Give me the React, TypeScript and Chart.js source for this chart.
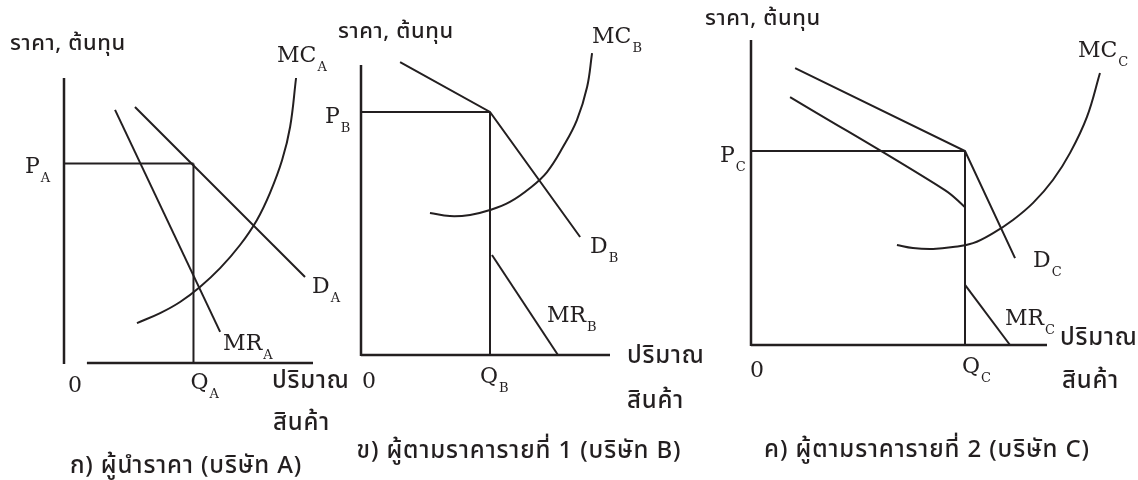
import React, { useEffect, useRef } from "react";
import { Chart, registerables } from "chart.js";

Chart.register(...registerables);

const W = 1138;
const H = 480;
const INK = "#231f20";
const SERIF = "'DejaVu Serif', 'Liberation Serif', serif";
const THAI = "'Noto Sans Thai', 'Noto Sans Thai UI', Loma, Garuda, Waree, Norasi, 'DejaVu Sans', sans-serif";

// ---------- Panel A: price leader (firm A) ----------
const A_MC_Q = [2.93, 3.86, 4.66, 5.46, 6.27, 7.07, 7.75, 8.27, 8.76, 9.08, 9.32];
const A_MC_P = [1.4, 1.75, 2.14, 2.67, 3.33, 4.14, 5.02, 5.96, 7.12, 8.28, 10.0];
const A_D_Q = [2.85, 9.68];
const A_D_P = [8.98, 3.02];
const A_MR_Q = [2.05, 6.27];
const A_MR_P = [8.88, 1.09];
const A_PRICE = 7.0;
const A_QTY = 5.2;

// ---------- Panel B: follower 1 (firm B) ----------
const B_MC_Q = [2.77, 3.57, 4.38, 5.18, 5.98, 6.79, 7.47, 8.11, 8.67, 9.08, 9.28];
const B_MC_P = [4.9, 4.79, 4.83, 5.0, 5.28, 5.76, 6.31, 7.17, 8.1, 9.24, 10.41];
const B_D_Q = [1.57, 5.18, 8.8];
const B_D_P = [10.1, 8.38, 4.07];
const B_MR_Q = [5.26, 7.91];
const B_MR_P = [3.45, 0.0];
const B_PRICE = 8.38;
const B_QTY = 5.18;

// ---------- Panel C: follower 2 (firm C) ----------
const C_MC_Q = [4.93, 5.47, 6.15, 6.82, 7.5, 8.18, 8.85, 9.53, 10.2, 10.78, 11.35, 11.79];
const C_MC_P = [3.28, 3.18, 3.15, 3.21, 3.34, 3.67, 4.1, 4.66, 5.41, 6.3, 7.48, 8.92];
const C_D_Q = [1.49, 7.23, 8.92];
const C_D_P = [9.08, 6.36, 2.85];
const C_MR1_Q = [1.32, 6.55, 7.23];
const C_MR1_P = [8.13, 5.08, 4.52];
const C_MR2_Q = [7.23, 8.75];
const C_MR2_P = [1.97, 0.0];
const C_PRICE = 6.36;
const C_QTY = 7.23;

// ---------- Text ----------
const AXIS_Y_TITLE = "ราคา, ต้นทุน";
const AXIS_X_TITLE_1 = "ปริมาณ";
const AXIS_X_TITLE_2 = "สินค้า";
const CAPTIONS = [
  "ก) ผู้นำราคา (บริษัท A)",
  "ข) ผู้ตามราคารายที่ 1 (บริษัท B)",
  "ค) ผู้ตามราคารายที่ 2 (บริษัท C)",
];
const FIRMS = ["A", "B", "C"];
const AXIS_END = 10;

type Pt = { x: number; y: number };
const pts = (q: number[], p: number[]): Pt[] => q.map((x, i) => ({ x, y: p[i] }));

type Label = {
  text: string;
  sub?: string;
  at: Pt;
  dx: number;
  dy: number;
  kind: "serif" | "ytitle" | "xtitle" | "caption";
  align?: CanvasTextAlign;
};

type Geo = { ox: number; oy: number; ux: number; uy: number; xMax: number; yMax: number; xFrom: number };

type Panel = {
  geo: Geo;
  series: { data: Pt[]; curve: boolean }[];
  labels: Label[];
};

function buildPanel(
  firm: string,
  caption: string,
  geo: Geo,
  mc: Pt[],
  d: Pt[],
  mr: Pt[][],
  price: number,
  qty: number,
  off: Record<string, [number, number]>
): Panel {
  const series = [
    { data: mc, curve: true },
    { data: d, curve: false },
    ...mr.map((m) => ({ data: m, curve: m.length > 2 })),
    { data: [{ x: 0, y: price }, { x: qty, y: price }], curve: false },
    { data: [{ x: qty, y: 0 }, { x: qty, y: price }], curve: false },
  ];
  const lastMR = mr[mr.length - 1];
  const labels: Label[] = [
    { text: AXIS_Y_TITLE, at: { x: 0, y: AXIS_END }, dx: off.title[0], dy: off.title[1], kind: "ytitle" },
    { text: "MC", sub: firm, at: mc[mc.length - 1], dx: off.mc[0], dy: off.mc[1], kind: "serif" },
    { text: "P", sub: firm, at: { x: 0, y: price }, dx: off.p[0], dy: off.p[1], kind: "serif" },
    { text: "D", sub: firm, at: d[d.length - 1], dx: off.d[0], dy: off.d[1], kind: "serif" },
    { text: "MR", sub: firm, at: lastMR[lastMR.length - 1], dx: off.mr[0], dy: off.mr[1], kind: "serif" },
    { text: "0", at: { x: 0, y: 0 }, dx: off.zero[0], dy: off.zero[1], kind: "serif", align: "center" },
    { text: "Q", sub: firm, at: { x: qty, y: 0 }, dx: off.q[0], dy: off.q[1], kind: "serif" },
    { text: AXIS_X_TITLE_1, at: { x: AXIS_END, y: 0 }, dx: off.x1[0], dy: off.x1[1], kind: "xtitle" },
    { text: AXIS_X_TITLE_2, at: { x: AXIS_END, y: 0 }, dx: off.x2[0], dy: off.x2[1], kind: "xtitle" },
    { text: caption, at: { x: 0, y: 0 }, dx: off.cap[0], dy: off.cap[1], kind: "caption", align: "center" },
  ];
  return { geo, series, labels };
}

const PANELS: Panel[] = [
  buildPanel(
    FIRMS[0],
    CAPTIONS[0],
    { ox: 64, oy: 363, ux: 24.9, uy: 28.5, xMax: 10.5, yMax: 10.5, xFrom: 0.92 },
    pts(A_MC_Q, A_MC_P),
    pts(A_D_Q, A_D_P),
    [pts(A_MR_Q, A_MR_P)],
    A_PRICE,
    A_QTY,
    {
      title: [-54, -28],
      mc: [-19, -16],
      p: [-39, 9],
      d: [7, 16],
      mr: [3, 18],
      zero: [11, 29],
      q: [-3, 26],
      x1: [-41, 25],
      x2: [-40, 67],
      cap: [122, 110],
    }
  ),
  buildPanel(
    FIRMS[1],
    CAPTIONS[1],
    { ox: 361, oy: 355, ux: 24.9, uy: 29, xMax: 10.5, yMax: 10.8, xFrom: 0 },
    pts(B_MC_Q, B_MC_P),
    pts(B_D_Q, B_D_P),
    [pts(B_MR_Q, B_MR_P)],
    B_PRICE,
    B_QTY,
    {
      title: [-23, -27],
      mc: [0, -10],
      p: [-36, 11],
      d: [10, 16],
      mr: [-11, -33],
      zero: [8, 33],
      q: [-10, 28],
      x1: [17, 8],
      x2: [17, 53],
      cap: [158, 103],
    }
  ),
  buildPanel(
    FIRMS[2],
    CAPTIONS[2],
    { ox: 751, oy: 345, ux: 29.6, uy: 30.5, xMax: 12.2, yMax: 10.5, xFrom: 0 },
    pts(C_MC_Q, C_MC_P),
    pts(C_D_Q, C_D_P),
    [pts(C_MR1_Q, C_MR1_P), pts(C_MR2_Q, C_MR2_P)],
    C_PRICE,
    C_QTY,
    {
      title: [-46, -15],
      mc: [-22, -16],
      p: [-31, 11],
      d: [18, 9],
      mr: [-5, -20],
      zero: [6, 32],
      q: [-3, 28],
      x1: [13, 0],
      x2: [15, 43],
      cap: [176, 112],
    }
  ),
];

function axesPlugin(geo: Geo) {
  return {
    id: "econAxes",
    beforeDatasetsDraw(chart: any) {
      const { ctx } = chart;
      const xs = chart.scales.x;
      const ys = chart.scales.y;
      const x0 = xs.getPixelForValue(0);
      const y0 = ys.getPixelForValue(0);
      ctx.save();
      ctx.strokeStyle = INK;
      ctx.lineWidth = 2.5;
      ctx.lineCap = "butt";
      ctx.beginPath();
      ctx.moveTo(x0, ys.getPixelForValue(AXIS_END));
      ctx.lineTo(x0, y0 + 1);
      ctx.moveTo(xs.getPixelForValue(geo.xFrom), y0);
      ctx.lineTo(xs.getPixelForValue(AXIS_END), y0);
      ctx.stroke();
      ctx.restore();
    },
  };
}

function labelPlugin(labels: Label[]) {
  return {
    id: "econLabels",
    afterDraw(chart: any) {
      const { ctx } = chart;
      const xs = chart.scales.x;
      const ys = chart.scales.y;
      ctx.save();
      ctx.fillStyle = INK;
      ctx.textBaseline = "alphabetic";
      for (const l of labels) {
        const px = xs.getPixelForValue(l.at.x) + l.dx;
        const py = ys.getPixelForValue(l.at.y) + l.dy;
        let spacing = "0px";
        if (l.kind === "serif") ctx.font = `22px ${SERIF}`;
        else if (l.kind === "ytitle") {
          ctx.font = `500 22px ${THAI}`;
          spacing = "0.6px";
        } else if (l.kind === "xtitle") {
          ctx.font = `500 24px ${THAI}`;
          spacing = "0.8px";
        } else {
          ctx.font = `500 24px ${THAI}`;
          spacing = "0.9px";
        }
        (ctx as any).letterSpacing = spacing;
        ctx.textAlign = l.align || "left";
        ctx.fillText(l.text, px, py);
        (ctx as any).letterSpacing = "0px";
        if (l.sub) {
          const w = ctx.measureText(l.text).width;
          ctx.font = `13px ${SERIF}`;
          ctx.textAlign = "left";
          ctx.fillText(l.sub, px + w + 1, py + 9);
        }
      }
      ctx.restore();
    },
  };
}

function PanelChart({ panel }: { panel: Panel }) {
  const ref = useRef<HTMLCanvasElement | null>(null);
  useEffect(() => {
    if (!ref.current) return;
    const g = panel.geo;
    const chart = new Chart(ref.current, {
      type: "scatter",
      data: {
        datasets: panel.series.map((s) => ({
          data: s.data,
          showLine: true,
          borderColor: INK,
          borderWidth: 2,
          pointRadius: 0,
          fill: false,
          clip: false as any,
          tension: s.curve ? 0.4 : 0,
        })),
      },
      options: {
        responsive: false,
        animation: false,
        devicePixelRatio: 1,
        layout: {
          padding: {
            left: g.ox,
            bottom: H - g.oy,
            right: W - (g.ox + g.xMax * g.ux),
            top: g.oy - g.yMax * g.uy,
          },
        },
        plugins: { legend: { display: false }, tooltip: { enabled: false }, title: { display: false } },
        events: [],
        scales: {
          x: { type: "linear", display: false, min: 0, max: g.xMax },
          y: { type: "linear", display: false, min: 0, max: g.yMax },
        },
      },
      plugins: [axesPlugin(g), labelPlugin(panel.labels)],
    });
    return () => chart.destroy();
  }, [panel]);
  return (
    <canvas
      ref={ref}
      width={W}
      height={H}
      style={{ position: "absolute", left: 0, top: 0, width: W, height: H }}
    />
  );
}

export default function App() {
  return (
    <div style={{ position: "fixed", left: 0, top: 0, width: W, height: H, background: "#ffffff" }}>
      {PANELS.map((p, i) => (
        <PanelChart key={i} panel={p} />
      ))}
    </div>
  );
}
